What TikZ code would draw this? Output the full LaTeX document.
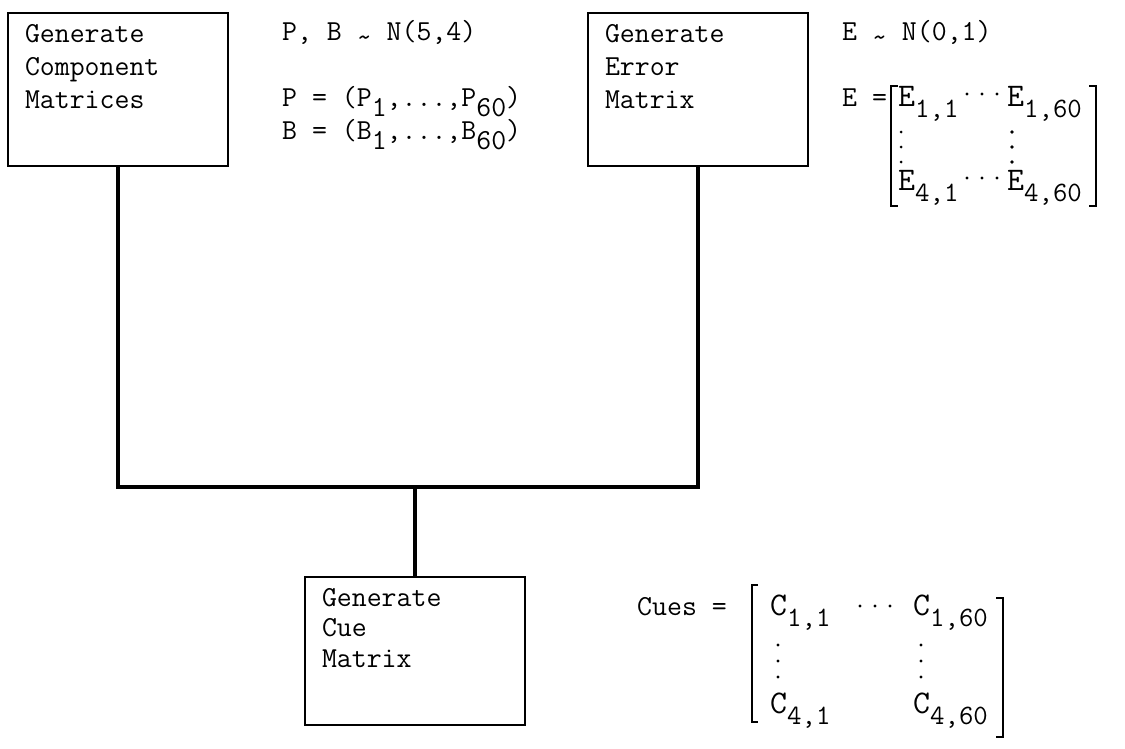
\documentclass[tikz,border=0pt]{standalone}
\usepackage{fontspec}
% lowered typewriter subscripts
\newcommand{\lo}[1]{\raisebox{-0.36em}{#1}}
\newcommand{\msub}[1]{\raisebox{-0.34em}{\fontsize{28}{28}\selectfont #1}}
% typewriter tilde sitting at mid height
\newcommand{\twtilde}{\raisebox{-0.22em}{\textasciitilde}}
\begin{document}
\begin{tikzpicture}[x=1pt,y=-1pt,
  stepbox/.style={draw, line width=2pt, rectangle, anchor=north west,
    inner xsep=17pt, inner ysep=11pt},
  tw/.style={font=\ttfamily\fontsize{29}{33}\selectfont},
  wire/.style={line width=3.4pt},
  note/.style={tw, anchor=base west, inner sep=0pt},
  entry/.style={anchor=base west, inner sep=0pt, font=\ttfamily\fontsize{33}{33}\selectfont},
  brk/.style={line width=1.6pt},
  vdot/.style={fill=black, draw=none}]
\useasboundingbox (0,0) rectangle (1125,748);

% process boxes
\node[stepbox, tw] (gcm) at (7,12)
  {\begin{minipage}[t][131pt][t]{186pt}Generate\\Component\\Matrices\end{minipage}};
\node[stepbox, tw] (gem) at (587,12)
  {\begin{minipage}[t][131pt][t]{186pt}Generate\\Error\\Matrix\end{minipage}};
\node[stepbox, font=\ttfamily\fontsize{29}{30.5}\selectfont] (gcue) at (304,576)
  {\begin{minipage}[t][126pt][t]{186pt}Generate\\Cue\\Matrix\end{minipage}};

% connectors joining the two generators into the cue step
\coordinate (bus) at (gcue.north |- 0,487);
\draw[wire] (gcm.south) |- (bus) -| (gem.south);
\draw[wire] (bus) -- (gcue.north);

% component distribution and vectors
\node[note] (pbdist) at (282,40) {P, B \twtilde{} N(5,4)};
\node[note] (pvec) at (282,106) {P = (P\lo{1},...,P\lo{60})};
\node[note] (bvec) at (282,139) {B = (B\lo{1},...,B\lo{60})};

% error distribution and matrix
\node[note] (edist) at (842,40) {E \twtilde{} N(0,1)};
\node[note] (eeq) at (842,106) {E =};
\node[entry] (e11) at (898,106) {E\msub{1,1}};
\node[entry] (e1n) at (1007,106) {E\msub{1,60}};
\node[entry] (e41) at (898,190) {E\msub{4,1}};
\node[entry] (e4n) at (1007,190) {E\msub{4,60}};
\foreach \xx in {967,982,997} {
  \fill[vdot] (\xx,94) circle (1.6pt);
  \fill[vdot] (\xx,178) circle (1.6pt);
}
\draw[brk] (898,86) -- (891,86) -- (891,206) -- (898,206);
\draw[brk] (1089,86) -- (1096,86) -- (1096,206) -- (1089,206);
\foreach \yy in {132,147,162} {
  \fill[vdot] (901,\yy) circle (1.5pt);
  \fill[vdot] (1012,\yy) circle (1.8pt);
}

% cue matrix
\node[note] (cues) at (637,615) {Cues =};
\node[entry] (c11) at (770,615) {C\msub{1,1}};
\foreach \xx in {860,875,890} {
  \fill[vdot] (\xx,606) circle (1.6pt);
}
\node[entry] (c1n) at (913,615) {C\msub{1,60}};
\node[entry] (c41) at (770,713) {C\msub{4,1}};
\node[entry] (c4n) at (913,713) {C\msub{4,60}};
\draw[brk] (758,585) -- (752,585) -- (752,722) -- (758,722);
\draw[brk] (996,598) -- (1003,598) -- (1003,737) -- (996,737);
\foreach \yy in {645,661,677} {
  \fill[vdot] (778,\yy) circle (1.6pt);
  \fill[vdot] (921,\yy) circle (1.6pt);
}
\end{tikzpicture}
\end{document}
